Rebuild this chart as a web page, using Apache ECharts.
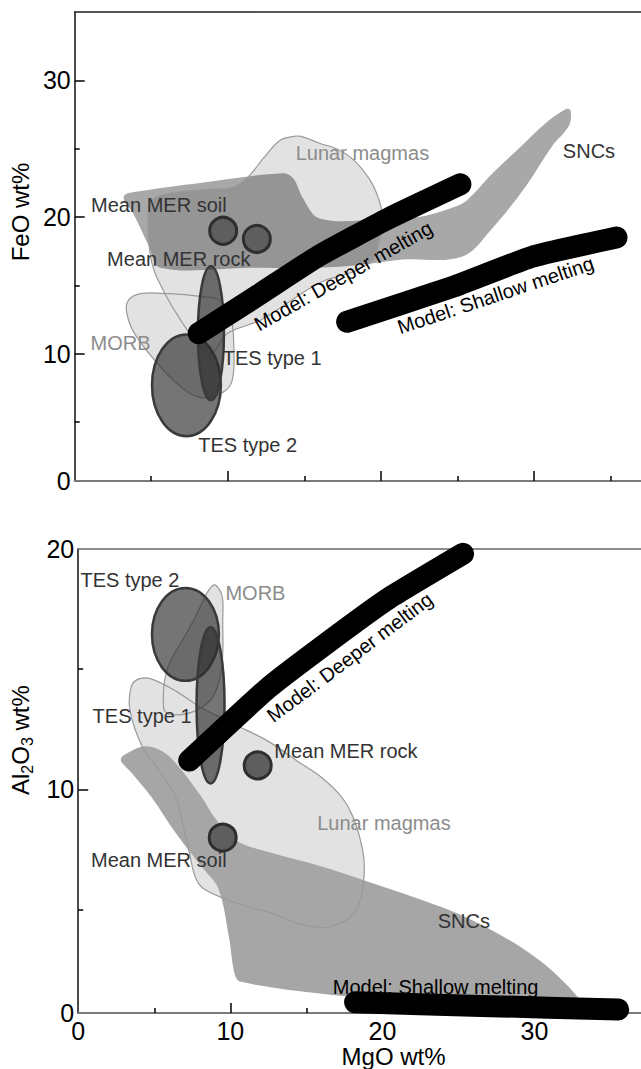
<!DOCTYPE html>
<html><head><meta charset="utf-8">
<script src="https://cdn.jsdelivr.net/npm/echarts@6/dist/echarts.min.js"></script>
<style>html,body{margin:0;padding:0;background:#fff}#c{width:641px;height:1069px}</style>
</head><body><div id="c"></div>
<script>
// ---------------- DATA (MgO wt%, oxide wt%) ----------------
// Top panel: FeO vs MgO
const feoLunar = [[14.3,25.9],[14.8,25.9],[16.0,25.4],[17.1,25.0],[18.2,24.2],[19.3,22.7],[19.9,21.2],[20.1,20.0],[19.9,18.3],[19.5,16.9],[18.2,16.0],[16.0,15.2],[12.2,12.5],[10.0,11.5],[8.9,10.0],[8.0,10.8],[6.9,12.5],[5.9,14.4],[5.1,16.4],[4.8,18.8],[4.9,21.0],[5.6,21.6],[8.2,22.0],[10.4,22.2],[11.3,22.9],[12.4,24.4],[13.4,25.6]];
const feoSNC = [[3.2,21.5],[4.3,21.9],[8.2,22.5],[13.6,23.2],[14.3,22.8],[14.9,21.4],[16.0,19.9],[19.9,19.8],[22.5,20.0],[24.7,20.7],[25.6,21.2],[27.3,23.2],[29.1,25.1],[30.8,26.9],[32.1,27.9],[32.4,27.8],[32.3,26.7],[31.2,25.2],[29.5,22.3],[27.3,19.2],[25.3,17.1],[21.4,16.9],[18.6,16.5],[16.0,16.3],[11.5,16.3],[5.6,16.3],[4.8,18.0],[3.9,20.1]];
const feoMORB = [[4.3,14.4],[6.1,14.4],[8.2,14.2],[9.5,13.9],[10.2,12.7],[10.4,10.3],[10.3,8.1],[9.7,7.2],[8.2,6.8],[6.9,7.6],[5.4,9.3],[3.9,11.5],[3.4,13.0],[3.5,13.9]];
const feoTES1 = [8.9, 11.5, 0.85, 4.9];   // centre MgO, centre FeO, half-width, half-height
const feoTES2 = [7.3, 7.7, 2.25, 3.72];
const feoMER = [[9.7, 19.0], [11.9, 18.4]]; // soil, rock
const feoDeeper = [[8.1,11.5],[12.0,14.3],[16.0,17.2],[20.5,19.9],[25.2,22.4]];
const feoShallow = [[17.8,12.35],[24.7,14.9],[29.9,17.1],[35.4,18.5]];

// Bottom panel: Al2O3 vs MgO
const alLunar = [[4.0,14.6],[4.8,14.6],[6.4,14.1],[8.1,13.4],[10.3,12.7],[12.5,12.0],[14.6,11.1],[16.0,10.5],[17.3,9.7],[18.1,8.8],[18.7,7.5],[18.8,6.5],[18.5,5.3],[17.7,4.6],[16.6,4.3],[16.0,4.26],[14.6,4.4],[12.5,4.9],[10.3,5.3],[8.3,5.85],[7.7,6.35],[7.3,7.4],[6.9,8.5],[6.4,9.7],[5.3,10.8],[4.2,11.8],[3.4,13.3],[3.5,14.3]];
const alSNC = [[2.8,11.25],[3.5,11.6],[4.4,11.8],[5.5,11.6],[6.4,11.1],[8.1,9.7],[9.0,8.8],[10.3,7.9],[12.5,7.4],[16.0,6.8],[20.3,5.9],[24.7,4.9],[27.9,3.9],[30.1,3.0],[31.6,2.2],[32.8,1.4],[33.1,1.1],[32.6,0.98],[27.7,1.2],[20.3,1.3],[16.0,1.5],[10.7,2.0],[10.3,2.3],[9.9,3.9],[9.2,5.9],[8.1,6.8],[6.4,8.2],[4.8,9.7],[3.5,10.7]];
const alMORB = [[8.9,18.5],[9.3,18.3],[9.5,17.9],[9.5,16.9],[9.5,15.6],[9.3,14.6],[8.8,13.8],[7.8,13.3],[6.5,13.1],[5.7,13.25],[5.6,13.8],[5.7,14.6],[6.1,15.4],[6.9,16.25],[7.8,17.3],[8.4,18.1]];
const alTES1 = [8.7, 13.5, 0.92, 3.25];
const alTES2 = [7.05, 16.45, 2.2, 1.93];
const alMER = [[9.5, 8.0], [11.8, 11.0]];
const alDeeper = [[7.3,11.2],[12.45,14.2],[15.95,15.9],[20.3,17.9],[25.3,19.8]];
const alShallow = [[18.2,1.15],[26.5,1.0],[35.5,0.85]];

// tick labels
const xTickLabels = [0, 10, 20, 30];
const feoTickLabels = [0, 10, 20, 30];
const alTickLabels = [0, 10, 20];

// annotation texts
const labelTexts = ['Lunar magmas','SNCs','Mean MER soil','Mean MER rock','MORB','TES type 1','TES type 2','Model: Deeper melting','Model: Shallow melting'];

// ---------------- LAYOUT / STYLE ----------------
const F = "'Liberation Sans', Arial, Helvetica, sans-serif";
const Y0 = 0.7; // axis baseline where the "0" label sits
const topLabelAt = [[18.8,24.7],[33.6,24.8],[5.5,20.9],[6.8,16.9],[3.0,10.8],[12.9,9.7],[11.3,3.3],[17.55,15.7],[27.5,14.3]];
const topLabelRot = [0,0,0,0,0,0,0,29.7,18.5];
const botLabelAt = [[20.1,8.6],[25.35,4.55],[5.3,7.05],[17.6,11.6],[11.65,18.15],[4.2,13.05],[3.4,18.7],[17.85,15.5],[23.5,1.8]];
const botLabelRot = [0,0,0,0,0,0,0,37,0];
const labelColors = ['#8c8c8c','#333','#333','#333','#8c8c8c','#333','#333','#000','#000'];

const LIGHT = '#e2e2e2', OUTL = '#9a9a9a';

function mapTick(v){ return v < Y0 ? Y0 : v; }

function poly(xi, yi, pts, style, z) {
  return { type:'custom', xAxisIndex:xi, yAxisIndex:yi, data:[pts[0]], z, silent:true, clip:false,
    renderItem:(p, api) => ({ type:'polygon', shape:{ points: pts.map(q => api.coord(q)), smooth:0.35 }, style }) };
}
function ell(xi, yi, e, z) {
  return { type:'custom', xAxisIndex:xi, yAxisIndex:yi, data:[e], z, silent:true, clip:false,
    renderItem:(p, api) => {
      const c = api.coord([api.value(0), api.value(1)]);
      const s = api.size([api.value(2), api.value(3)]);
      return { type:'ellipse', shape:{ cx:c[0], cy:c[1], rx:s[0], ry:s[1] },
        style:{ fill:'rgba(45,45,45,0.66)', stroke:'#3a3a3a', lineWidth:2.5 } };
    } };
}
function dots(xi, yi, pts) {
  return { type:'scatter', xAxisIndex:xi, yAxisIndex:yi, data:pts, symbolSize:27, z:5, silent:true,
    itemStyle:{ color:'#5e5e5e', borderColor:'#2e2e2e', borderWidth:3, opacity:1 } };
}
function model(xi, yi, pts) {
  return { type:'line', xAxisIndex:xi, yAxisIndex:yi, data:pts, symbol:'none', smooth:0.15, clip:false, z:6, silent:true,
    lineStyle:{ color:'#000', width:22, cap:'round', join:'round' } };
}
function labels(xi, yi, at, rot) {
  return { type:'custom', xAxisIndex:xi, yAxisIndex:yi, data:at, z:8, silent:true, clip:false,
    renderItem:(p, api) => {
      const i = p.dataIndex;
      const c = api.coord([api.value(0), api.value(1)]);
      return { type:'text', x:c[0], y:c[1], rotation: rot[i]*Math.PI/180,
        style:{ text:labelTexts[i], fontSize:20, fontFamily:F, fill:labelColors[i], align:'center', verticalAlign:'middle' } };
    } };
}

const tickLine = { color:'#000', width:1.5 };
function xAxesFor(g, showLabels, topColor) {
  const base = { gridIndex:g, type:'value', min:0, max:37, splitLine:{show:false} };
  return [
    Object.assign({}, base, { position:'bottom',
      axisLine:{ show:true, onZero:false, lineStyle:{ color:'#7a7a7a', width:2 } },
      axisTick:{ show:true, inside:true, length:10, customValues:[10,20,30], lineStyle:tickLine },
      axisLabel: showLabels ? { show:true, customValues:xTickLabels, fontSize:25, fontFamily:F, color:'#000', margin:5 } : { show:false },
      name: showLabels ? 'MgO wt%' : '', nameLocation:'middle', nameGap:26,
      nameTextStyle:{ fontSize:24, fontFamily:F, color:'#000', padding:[0,0,0,68] } }),
    Object.assign({}, base, { position:'bottom', axisLine:{ show:false, onZero:false },
      axisTick:{ show:true, inside:true, length:5, customValues:[5,15,25,35], lineStyle:tickLine }, axisLabel:{show:false} }),
    Object.assign({}, base, { position:'top', axisLine:{ show:true, onZero:false, lineStyle:{ color:topColor, width:1.5 } },
      axisTick:{show:false}, axisLabel:{show:false} })
  ];
}
function yAxesFor(g, max, major, minor, lbls, name, nameOpts) {
  const base = { gridIndex:g, type:'value', min:Y0, max, position:'left', splitLine:{show:false} };
  return [
    Object.assign({}, base, {
      axisLine:{ show:true, onZero:false, lineStyle:{ color:'#111', width:1.5 } },
      axisTick:{ show:true, inside:true, length:10, customValues:major, lineStyle:tickLine },
      axisLabel:{ show:true, customValues:lbls.map(mapTick), formatter:v => (v < 1 ? '0' : String(Math.round(v))),
        fontSize:25, fontFamily:F, color:'#000', margin:4 },
      name, nameLocation:'middle', nameGap:nameOpts.gap,
      nameTextStyle:Object.assign({ fontSize:24, fontFamily:F, color:'#000', padding:[0,0,0,nameOpts.pad] }, nameOpts.extra || {}) }),
    Object.assign({}, base, { axisLine:{show:false},
      axisTick:{ show:true, inside:true, length:5, customValues:minor, lineStyle:tickLine }, axisLabel:{show:false} })
  ];
}

const option = {
  backgroundColor:'#fff',
  animation:false,
  grid:[ { left:73, top:12, width:568, height:469 }, { left:76, top:549, width:566, height:468 } ],
  xAxis:[].concat(xAxesFor(0, false, '#222'), xAxesFor(1, true, '#666')),
  yAxis:[].concat(
    yAxesFor(0, 35, [10,20,30], [5,15,25], feoTickLabels, 'FeO wt%', { gap:39, pad:69 }),
    yAxesFor(1, 20, [10], [5,15], alTickLabels, 'Al{s|2}O{s|3} wt%', { gap:35, pad:82,
      extra:{ rich:{ s:{ fontSize:16, fontFamily:F, color:'#000', padding:[15,0,0,0] } } } })
  ),
  series:[
    // top panel
    poly(0,0, feoLunar, { fill:LIGHT }, 1),
    poly(0,0, feoMORB, { fill:LIGHT }, 1),
    poly(0,0, feoSNC, { fill:'rgba(0,0,0,0.34)' }, 2),
    poly(0,0, feoLunar, { fill:'none', stroke:OUTL, lineWidth:1.2 }, 3),
    poly(0,0, feoMORB, { fill:'none', stroke:OUTL, lineWidth:1.2 }, 3),
    ell(0,0, feoTES2, 4),
    ell(0,0, feoTES1, 4),
    dots(0,0, feoMER),
    model(0,0, feoDeeper),
    model(0,0, feoShallow),
    labels(0,0, topLabelAt, topLabelRot),
    // bottom panel
    poly(3,2, alLunar, { fill:LIGHT }, 1),
    poly(3,2, alMORB, { fill:LIGHT }, 1),
    poly(3,2, alSNC, { fill:'#a6a6a6' }, 2),
    poly(3,2, alLunar, { fill:'none', stroke:OUTL, lineWidth:1.2 }, 3),
    poly(3,2, alMORB, { fill:'none', stroke:OUTL, lineWidth:1.2 }, 3),
    ell(3,2, alTES2, 4),
    ell(3,2, alTES1, 4),
    dots(3,2, alMER),
    model(3,2, alDeeper),
    model(3,2, alShallow),
    labels(3,2, botLabelAt, botLabelRot)
  ]
};
const chart = echarts.init(document.getElementById('c'), null, { renderer:'svg' });
chart.setOption(option);
</script>
</body></html>
